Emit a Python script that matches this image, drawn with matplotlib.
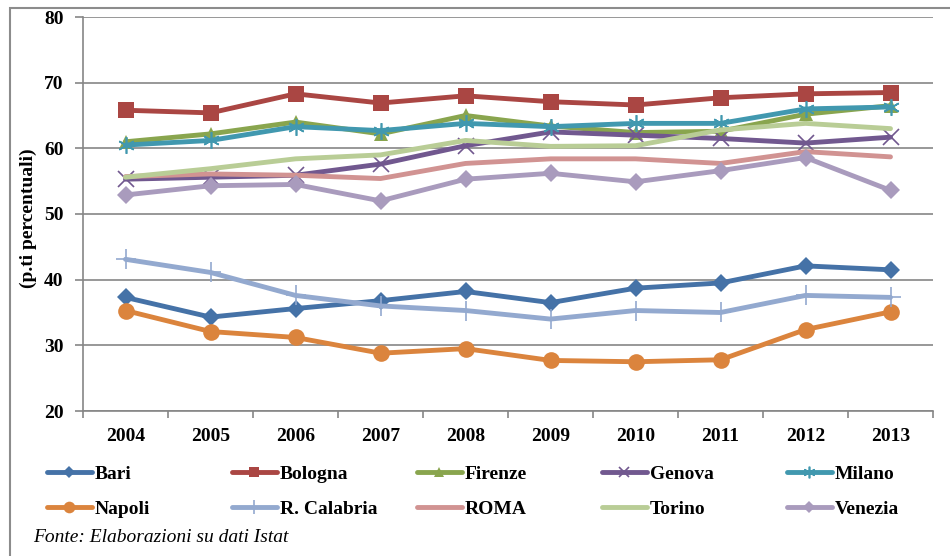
import matplotlib
matplotlib.use('Agg')
import matplotlib.pyplot as plt
from matplotlib.patches import Rectangle

# Data (p.ti percentuali)
years = ['2004', '2005', '2006', '2007', '2008', '2009', '2010', '2011', '2012', '2013']

bari = [37.3, 34.3, 35.6, 36.8, 38.2, 36.5, 38.7, 39.5, 42.1, 41.5]
bologna = [65.8, 65.4, 68.3, 66.9, 68.0, 67.1, 66.6, 67.7, 68.3, 68.5]
firenze = [61.0, 62.2, 64.0, 62.2, 65.0, 63.4, 62.4, 62.6, 65.2, 66.5]
genova = [55.3, 55.6, 55.9, 57.6, 60.4, 62.5, 62.0, 61.5, 60.8, 61.7]
milano = [60.5, 61.2, 63.3, 62.7, 63.8, 63.3, 63.8, 63.8, 66.0, 66.3]
napoli = [35.3, 32.1, 31.2, 28.8, 29.5, 27.7, 27.5, 27.8, 32.4, 35.1]
rcalabria = [43.1, 41.1, 37.6, 36.0, 35.3, 34.0, 35.3, 35.0, 37.6, 37.3]
roma = [55.7, 56.1, 55.9, 55.4, 57.7, 58.4, 58.4, 57.7, 59.5, 58.7]
torino = [55.6, 56.9, 58.4, 59.0, 61.2, 60.3, 60.4, 62.8, 63.8, 63.0]
venezia = [52.9, 54.3, 54.5, 52.0, 55.3, 56.2, 54.9, 56.6, 58.6, 53.6]

names = ['Bari', 'Bologna', 'Firenze', 'Genova', 'Milano',
         'Napoli', 'R. Calabria', 'ROMA', 'Torino', 'Venezia']
series = [bari, bologna, firenze, genova, milano,
          napoli, rcalabria, roma, torino, venezia]
colors = ['#4572A7', '#AA4643', '#89A54E', '#71588F', '#4198AF',
          '#DB843D', '#93A9CF', '#D19392', '#B9CD96', '#A99BBD']
markers = ['D', 's', '^', 'x', (6, 2, 0), 'o', '+', 'None', 'None', 'D']
msizes = [9, 11, 10, 11, 12, 12, 14, 0, 0, 9]
mews = [0, 0, 0, 1.2, 1.2, 0, 1.2, 0, 0, 0]

plt.rcParams['font.family'] = ['Liberation Serif', 'DejaVu Serif']

fig = plt.figure(figsize=(9.5, 5.56), dpi=100)
ax = fig.add_axes([83 / 950, 1 - 411 / 556, 850 / 950, 394 / 556])

x = list(range(len(years)))
handles = []
for vals, name, c, m, ms, mew in zip(series, names, colors, markers, msizes, mews):
    h, = ax.plot(x, vals, color=c, lw=3.5, marker=m, markersize=ms,
                 markeredgewidth=mew, markeredgecolor=c, markerfacecolor=c,
                 solid_capstyle='round', solid_joinstyle='round', label=name)
    handles.append(h)

ax.set_ylim(20, 80)
ax.set_yticks(range(20, 81, 10))
ax.set_xlim(-0.5, 9.5)
ax.set_xticks(x)
ax.set_xticklabels(years)
ax.set_xticks([i - 0.5 for i in range(11)], minor=True)
ax.tick_params(axis='x', which='major', length=0, pad=12)
ax.tick_params(axis='x', which='minor', length=5, color='#868686', width=1.2)
ax.tick_params(axis='y', length=6, color='#868686', width=1.2, pad=8)
for lab in ax.get_xticklabels() + ax.get_yticklabels():
    lab.set_fontweight('bold')
    lab.set_fontsize(14)

ax.grid(axis='y', color='#868686', lw=1.2)
ax.set_axisbelow(True)
for s in ['top', 'right']:
    ax.spines[s].set_visible(False)
for s in ['left', 'bottom']:
    ax.spines[s].set_color('#868686')
    ax.spines[s].set_linewidth(1.2)

fig.text(28 / 950, 1 - 218 / 556, '(p.ti percentuali)', rotation=90,
         ha='center', va='center', fontsize=14, fontweight='bold')

# legend: one small legend per column, Excel-style row-major order
col_x = [47, 232, 417, 602, 787]
for j in range(5):
    leg = fig.legend([handles[j], handles[j + 5]], [names[j], names[j + 5]],
                     loc='upper left', bbox_to_anchor=(col_x[j] / 950, 1 - 465 / 556),
                     frameon=False, borderpad=0, borderaxespad=0,
                     handlelength=2.3, handletextpad=0.15, labelspacing=0.9,
                     prop={'weight': 'bold', 'size': 14}, markerscale=0.7)

fig.text(33 / 950, 1 - 538 / 556, 'Fonte: Elaborazioni su dati Istat',
         ha='left', va='center', fontsize=14, style='italic')

# outer frame
fig.patches.append(Rectangle((10 / 950, -0.05), 1.2, 1 - 8 / 556 + 0.05,
                             transform=fig.transFigure, fill=False,
                             edgecolor='#8c8c8c', lw=1.5))

fig.savefig('out.png', dpi=100)
